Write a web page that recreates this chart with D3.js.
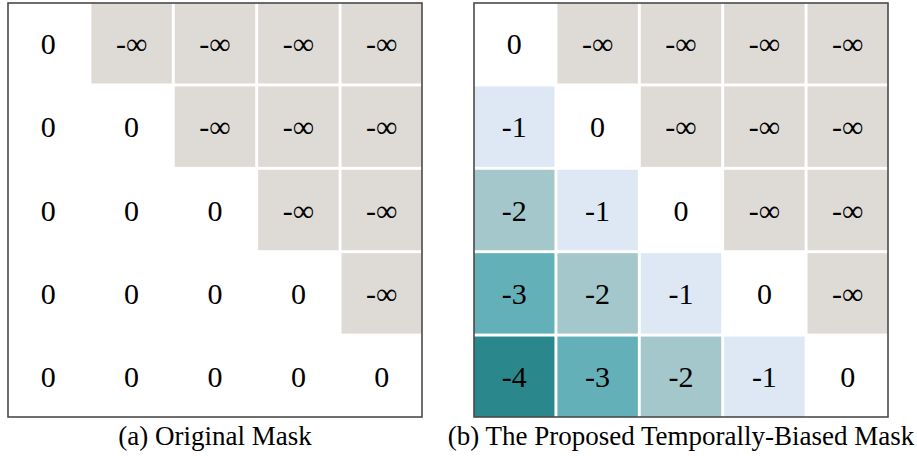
<!DOCTYPE html>
<html>
<head>
<meta charset="utf-8">
<script src="https://cdn.jsdelivr.net/npm/d3@7"></script>
<style>
  body { margin: 0; background: #fff; }
</style>
</head>
<body>
<div id="chart"></div>
<script>
// grid data
var rows = [0, 1, 2, 3, 4]
var cols = [0, 1, 2, 3, 4]
var titles = ["(a) Original Mask", "(b) The Proposed Temporally-Biased Mask"]
// bias value for each distance below the diagonal (i - j)
var biasValues = [0, -1, -2, -3, -4]
var biasColors = ["#ffffff", "#dde8f4", "#a3c7cb", "#64b0b8", "#2a878b"]
var maskColor = "#dedbd6"

var width = 917, height = 458

var svg = d3.select("#chart")
  .append("svg")
  .attr("width", width)
  .attr("height", height)

var panels = [
  {x0: 8, title: titles[0], biased: false},
  {x0: 474, title: titles[1], biased: true}
]

var size = 414

panels.forEach(function(p) {
  var g = svg.append("g")
    .attr("transform", "translate(" + p.x0 + ",3)")

  var x = d3.scaleBand().domain(cols).range([0, size]).paddingInner(0.035)
  var y = d3.scaleBand().domain(rows).range([0, size]).paddingInner(0.035)

  var cells = []
  rows.forEach(function(i) {
    cols.forEach(function(j) {
      var label, fill
      if (j > i) { label = "-\u221E"; fill = maskColor }
      else if (p.biased) { label = String(biasValues[i - j]); fill = biasColors[i - j] }
      else { label = "0"; fill = "#ffffff" }
      cells.push({i: i, j: j, label: label, fill: fill})
    })
  })

  g.selectAll("rect.cell")
    .data(cells)
    .enter()
    .append("rect")
    .attr("class", "cell")
    .attr("x", function(d) { return x(d.j) })
    .attr("y", function(d) { return y(d.i) })
    .attr("width", x.bandwidth())
    .attr("height", y.bandwidth())
    .style("fill", function(d) { return d.fill })

  g.selectAll("text.val")
    .data(cells)
    .enter()
    .append("text")
    .attr("class", "val")
    .attr("x", function(d) { return x(d.j) + x.bandwidth() / 2 })
    .attr("y", function(d) { return y(d.i) + y.bandwidth() / 2 + 10.5 })
    .attr("text-anchor", "middle")
    .style("font-family", "'Liberation Serif'")
    .style("font-size", "30px")
    .style("fill", "#000")
    .text(function(d) { return d.label })

  // frame
  g.append("rect")
    .attr("x", 0).attr("y", 0)
    .attr("width", size).attr("height", size)
    .style("fill", "none")
    .style("stroke", "#4a4a4a")
    .style("stroke-width", 1.6)

  svg.append("text")
    .attr("x", p.x0 + size / 2)
    .attr("y", 445)
    .attr("text-anchor", "middle")
    .style("font-family", "'Liberation Serif'")
    .style("font-size", "27px")
    .text(p.title)
})
</script>
</body>
</html>
